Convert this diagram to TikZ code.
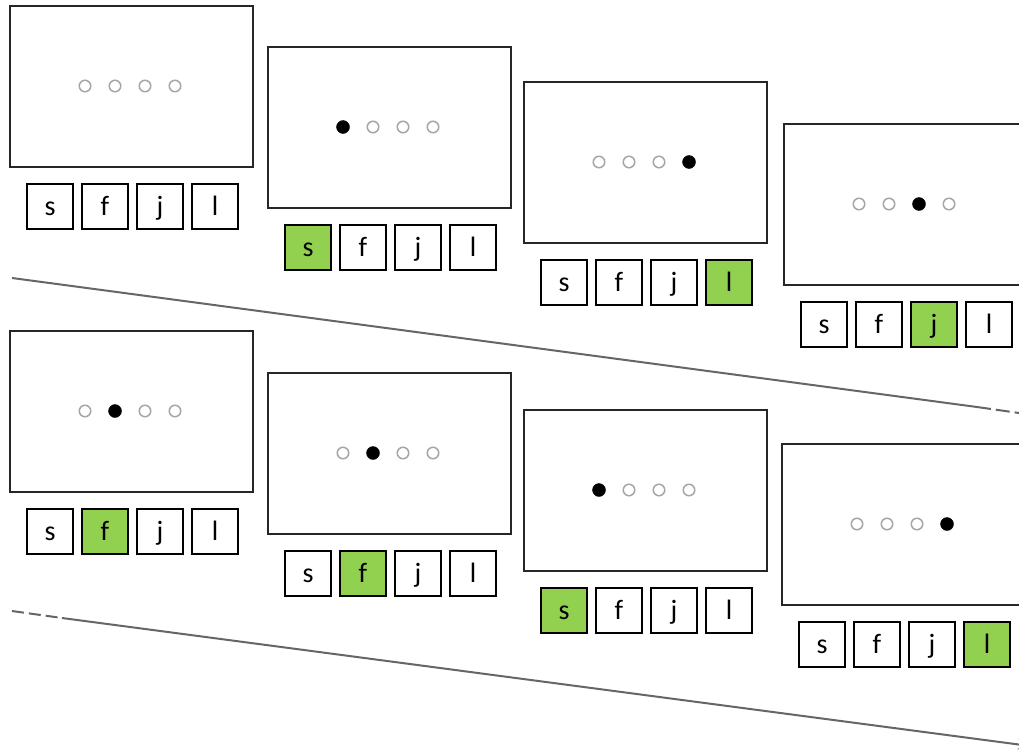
\documentclass[tikz,border=0pt]{standalone}
\usepackage{fontspec}
\setmainfont{Carlito}
\usetikzlibrary{arrows.meta}
\definecolor{keygreen}{HTML}{92D050}
\begin{document}
\begin{tikzpicture}[x=1pt,y=-1pt,
  screen/.style={draw=black!85, line width=2.4pt, minimum width=243pt, minimum height=161pt, inner sep=0pt, anchor=north west},
  dot/.style={circle, draw=black!35, line width=1.5pt, minimum size=11.5pt, inner sep=0pt},
  dotfill/.style={circle, fill=black, draw=black, line width=0.4pt, minimum size=13pt, inner sep=0pt},
  key/.style={draw=black, line width=1.4pt, minimum width=46pt, minimum height=45pt, inner sep=0pt,
    text height=20.5pt, text depth=3.5pt, font=\fontsize{28}{28}\selectfont},
  keyoff/.style={key, fill=white},
  keyon/.style={key, fill=keygreen},
  sep/.style={draw=black!60, line width=2pt}]
\clip (0,0) rectangle (1019,752);
\fill[white] (0,0) rectangle (1019,752);
\foreach \n/\x/\y/\d/\k in {A/9/5/0/0, B/267/46/1/1, C/523/81/4/4, D/783/123/3/3,
                            E/9/330/2/2, F/267/372/2/2, G/523/409/1/1, H/781/443/4/4}{
  \node[screen] (scr\n) at (\x,\y) {};
  \foreach \i in {1,...,4}{
    \ifnum\i=\d\relax\def\ds{dotfill}\else\def\ds{dot}\fi
    \node[\ds] (dot\n\i) at (\x+46+30*\i, \y+81) {};
  }
  \foreach \i/\l in {1/s,2/f,3/j,4/l}{
    \ifnum\i=\k\relax\def\ks{keyon}\else\def\ks{keyoff}\fi
    \node[\ks] (key\n\i) at (\x-14+55*\i, \y+201.5) {\l};
  }
}
% separators
\coordinate (a1) at (12,278);
\coordinate (a2) at (977,407);
\coordinate (a3) at (1019,413);
\draw[sep] (a1) -- (a2);
\draw[sep, dash pattern=on 14pt off 5pt] (a2) -- (a3);
\coordinate (b1) at (12,611);
\coordinate (b2) at (62,618);
\coordinate (b3) at (1030,746);
\draw[sep, dash pattern=on 12pt off 5pt] (b1) -- (b2);
\draw[sep, -{Stealth[length=12pt,width=10pt]}] (b2) -- (b3);
\end{tikzpicture}
\end{document}
